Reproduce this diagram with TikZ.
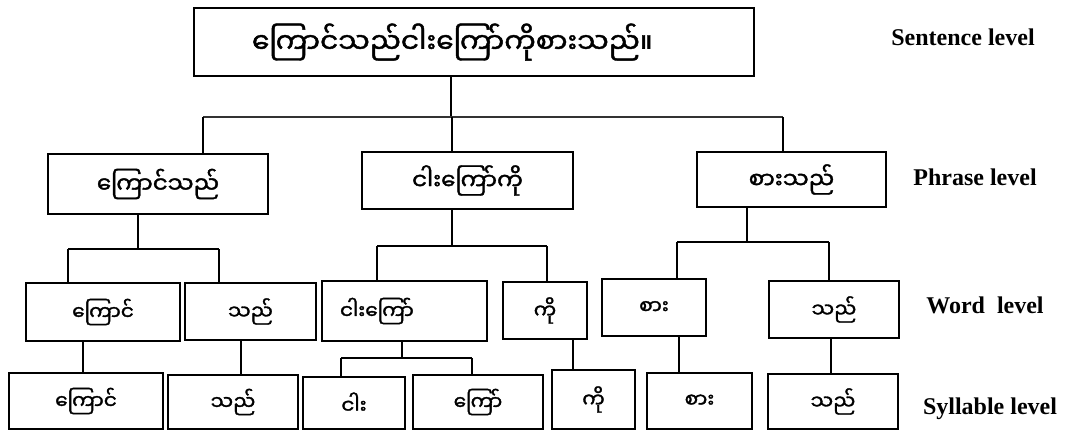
\documentclass[tikz,border=0pt]{standalone}
\usepackage{fontspec}
\newfontfamily\myfont[Script=Myanmar, FakeBold=1.6]{Noto Sans Myanmar UI}
\newfontfamily\enfont{Liberation Serif}
\tikzset{
  box/.style={draw, line width=2.2pt, inner sep=0pt, font=\myfont\fontsize{20}{24}\selectfont},
  conn/.style={line width=1.7pt},
  lvl/.style={font=\enfont\bfseries\fontsize{24}{28}\selectfont, inner sep=0pt}
}
\begin{document}
\begin{tikzpicture}[x=1pt,y=-1pt]
\useasboundingbox (0,0) rectangle (1065,431);
% sentence
\node[box, minimum width=560pt, minimum height=68pt, text width=444pt, align=left, inner xsep=58pt, font=\myfont\fontsize{28}{34}\selectfont] (top) at (474,42) {ကြောင်သည်ငါးကြော်ကိုစားသည်။};
% phrases
\node[box, minimum width=220pt, minimum height=60pt, font=\myfont\fontsize{23}{27}\selectfont] (p1) at (158,184) {ကြောင်သည်};
\node[box, minimum width=211pt, minimum height=57pt, font=\myfont\fontsize{23}{27}\selectfont] (p2) at (467.5,180.5) {ငါးကြော်ကို};
\node[box, minimum width=189pt, minimum height=55pt, font=\myfont\fontsize{23}{27}\selectfont] (p3) at (791.5,179.5) {စားသည်};
% words
\node[box, minimum width=154pt, minimum height=58pt] (w1) at (103,312) {ကြောင်};
\node[box, minimum width=131pt, minimum height=57pt] (w2) at (250.5,311.5) {သည်};
\node[box, minimum width=165pt, minimum height=60pt, text width=129pt, align=left, inner xsep=18pt] (w3) at (404.5,311) {ငါးကြော်};
\node[box, minimum width=84pt, minimum height=57pt] (w4) at (545,310.5) {ကို};
\node[box, minimum width=104pt, minimum height=57pt] (w5) at (654,307.5) {စား};
\node[box, minimum width=130pt, minimum height=57pt] (w6) at (834,309.5) {သည်};
% syllables
\node[box, minimum width=154pt, minimum height=56pt] (s1) at (86,401) {ကြောင်};
\node[box, minimum width=130pt, minimum height=54pt] (s2) at (233,402) {သည်};
\node[box, minimum width=102pt, minimum height=52pt] (s3) at (354,403) {ငါး};
\node[box, minimum width=130pt, minimum height=54pt] (s4) at (478,402) {ကြော်};
\node[box, minimum width=83pt, minimum height=59pt] (s5) at (593.5,399.5) {ကို};
\node[box, minimum width=105pt, minimum height=56pt] (s6) at (699.5,401) {စား};
\node[box, minimum width=130pt, minimum height=55pt] (s7) at (833,401.5) {သည်};
% level labels
\node[lvl] (l1) at (963,37) {Sentence level};
\node[lvl] (l2) at (975,177) {Phrase level};
\node[lvl] (l3) at (985,305) {Word\ \ level};
\node[lvl] (l4) at (990,409) {Syllable level};
% junctions
\coordinate (j0) at (451,117);
\coordinate (j0l) at (203,117);
\coordinate (j0m) at (452,117);
\coordinate (j0r) at (783,117);
\coordinate (j1) at (138,249);
\coordinate (j1l) at (68,249);
\coordinate (j1r) at (219,249);
\coordinate (j2) at (452,246);
\coordinate (j2l) at (377,246);
\coordinate (j2r) at (547,246);
\coordinate (j3) at (747,242);
\coordinate (j3l) at (677,242);
\coordinate (j3r) at (829,242);
\coordinate (j4) at (402,358);
\coordinate (j4l) at (341,358);
\coordinate (j4r) at (472,358);
\coordinate (k1) at (83,0);
\coordinate (k2) at (241,0);
\coordinate (k5) at (573,0);
\coordinate (k6) at (679,0);
\coordinate (k7) at (831,0);
% sentence -> phrases
\draw[conn] (top.south -| j0) -- (j0);
\draw[conn, line width=1.3pt, draw=black!80] (j0l) -- (j0r);
\draw[conn] (j0l) -- (p1.north -| j0l);
\draw[conn] (j0m) -- (p2.north -| j0m);
\draw[conn] (j0r) -- (p3.north -| j0r);
% phrase1 -> words
\draw[conn] (p1.south -| j1) -- (j1);
\draw[conn] (j1l) -- (j1r);
\draw[conn] (j1l) -- (w1.north -| j1l);
\draw[conn] (j1r) -- (w2.north -| j1r);
% phrase2 -> words
\draw[conn] (p2.south -| j2) -- (j2);
\draw[conn] (j2l) -- (j2r);
\draw[conn] (j2l) -- (w3.north -| j2l);
\draw[conn] (j2r) -- (w4.north -| j2r);
% phrase3 -> words
\draw[conn] (p3.south -| j3) -- (j3);
\draw[conn] (j3l) -- (j3r);
\draw[conn] (j3l) -- (w5.north -| j3l);
\draw[conn] (j3r) -- (w6.north -| j3r);
% words -> syllables
\draw[conn] (w1.south -| k1) -- (s1.north -| k1);
\draw[conn] (w2.south -| k2) -- (s2.north -| k2);
\draw[conn] (w3.south -| j4) -- (j4);
\draw[conn] (j4l) -- (j4r);
\draw[conn] (j4l) -- (s3.north -| j4l);
\draw[conn] (j4r) -- (s4.north -| j4r);
\draw[conn] (w4.south -| k5) -- (s5.north -| k5);
\draw[conn] (w5.south -| k6) -- (s6.north -| k6);
\draw[conn] (w6.south -| k7) -- (s7.north -| k7);
\end{tikzpicture}
\end{document}
